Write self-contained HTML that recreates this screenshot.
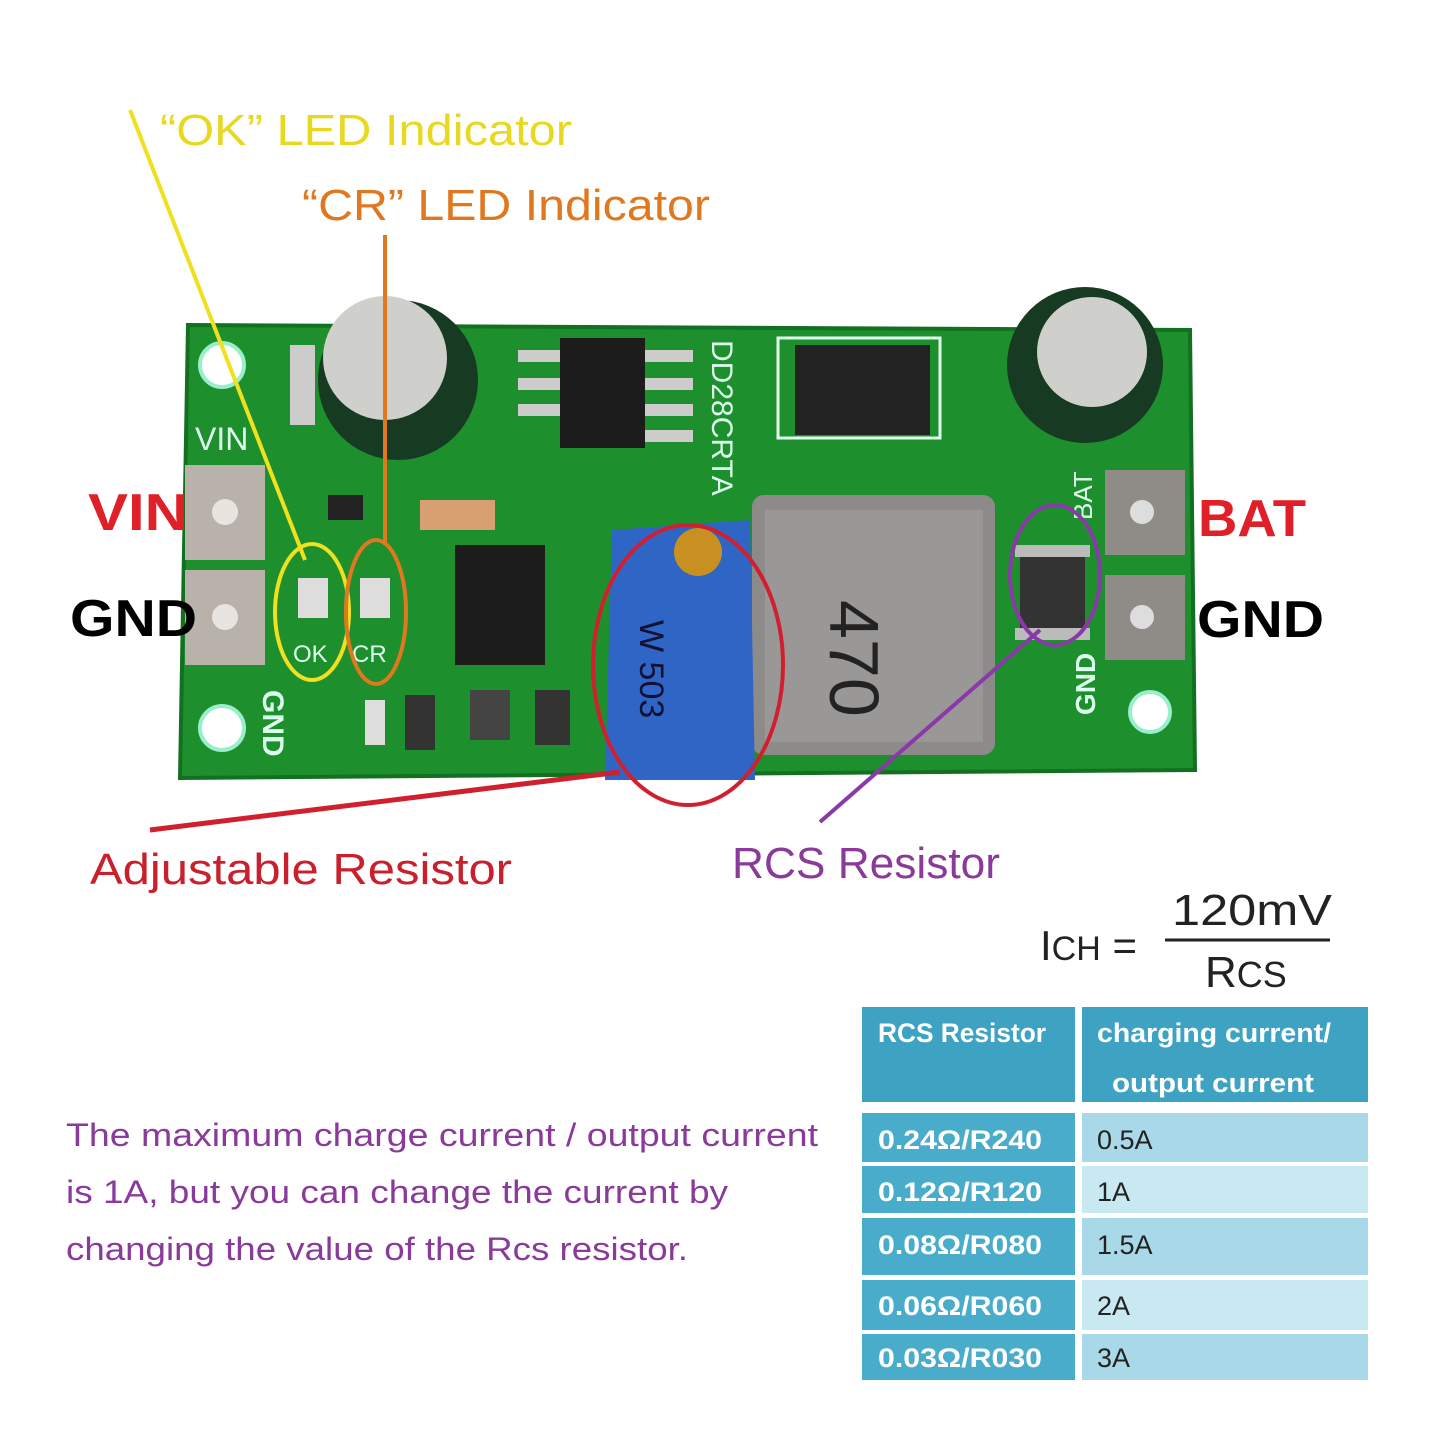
<!DOCTYPE html>
<html><head><meta charset="utf-8"><style>
html,body{margin:0;padding:0;background:#fff;width:1445px;height:1445px;overflow:hidden}
svg{display:block}
text{font-family:"Liberation Sans","DejaVu Sans",sans-serif}
</style></head><body>
<svg width="1445" height="1445" viewBox="0 0 1445 1445">
<rect width="1445" height="1445" fill="#fff"/>
<!-- PCB -->
<polygon points="188,325 1190,330 1195,770 180,778" fill="#1d8f2c"/>
<polygon points="188,325 1190,330 1195,770 180,778" fill="none" stroke="#137020" stroke-width="4"/>
<circle cx="222" cy="365" r="22" fill="#fff" stroke="#9ec" stroke-width="4"/>
<circle cx="222" cy="728" r="22" fill="#fff" stroke="#9ec" stroke-width="4"/>
<circle cx="1150" cy="712" r="20" fill="#fff" stroke="#9ec" stroke-width="4"/>
<!-- terminals -->
<rect x="185" y="465" width="80" height="95" fill="#b9b2ab"/>
<rect x="185" y="570" width="80" height="95" fill="#b9b2ab"/>
<rect x="1105" y="470" width="80" height="85" fill="#8f8c88"/>
<rect x="1105" y="575" width="80" height="85" fill="#8f8c88"/>
<circle cx="225" cy="512" r="13" fill="#e8e4e0"/><circle cx="225" cy="617" r="13" fill="#e8e4e0"/>
<circle cx="1142" cy="512" r="12" fill="#ddd"/><circle cx="1142" cy="617" r="12" fill="#ddd"/>
<!-- capacitors -->
<circle cx="398" cy="380" r="80" fill="#173a22"/>
<circle cx="385" cy="358" r="62" fill="#cfcfcc"/>
<circle cx="1085" cy="365" r="78" fill="#173a22"/>
<circle cx="1092" cy="352" r="55" fill="#cfcfcc"/>
<!-- ICs -->
<rect x="560" y="338" width="85" height="110" fill="#1c1c1c"/>
<rect x="518" y="350" width="42" height="12" fill="#ccc"/><rect x="518" y="378" width="42" height="12" fill="#ccc"/><rect x="518" y="404" width="42" height="12" fill="#ccc"/>
<rect x="645" y="350" width="48" height="12" fill="#ccc"/><rect x="645" y="378" width="48" height="12" fill="#ccc"/><rect x="645" y="404" width="48" height="12" fill="#ccc"/><rect x="645" y="430" width="48" height="12" fill="#ccc"/>
<rect x="778" y="338" width="162" height="100" fill="none" stroke="#dfe" stroke-width="3"/>
<rect x="795" y="345" width="135" height="90" fill="#222"/>
<rect x="455" y="545" width="90" height="120" fill="#1c1c1c"/>
<rect x="420" y="500" width="75" height="30" fill="#d8a070"/>
<rect x="328" y="495" width="35" height="25" fill="#222"/>
<rect x="290" y="345" width="25" height="80" fill="#ccc"/>
<rect x="470" y="690" width="40" height="50" fill="#444"/>
<rect x="535" y="690" width="35" height="55" fill="#333"/>
<rect x="365" y="700" width="20" height="45" fill="#ddd"/>
<rect x="405" y="695" width="30" height="55" fill="#333"/>
<!-- inductor -->
<rect x="752" y="495" width="243" height="260" rx="12" fill="#8d8b89"/>
<rect x="765" y="510" width="218" height="232" fill="#9a9896"/>
<text x="0" y="0" transform="translate(830,600) rotate(90)" font-size="70" fill="#222" font-family="Liberation Mono">470</text>
<!-- pot -->
<polygon points="612,530 750,520 755,780 605,780" fill="#2f66c6"/>
<circle cx="698" cy="552" r="24" fill="#c89020"/>
<text transform="translate(640,620) rotate(90)" font-size="34" fill="#113" >W 503</text>
<!-- RCS resistor -->
<rect x="1020" y="550" width="65" height="85" fill="#333"/>
<rect x="1015" y="545" width="75" height="12" fill="#bbb"/><rect x="1015" y="628" width="75" height="12" fill="#bbb"/>
<!-- LEDs -->
<rect x="298" y="578" width="30" height="40" fill="#ddd"/>
<rect x="360" y="578" width="30" height="40" fill="#ddd"/>
<text x="195" y="450" font-size="32" fill="#dfe" >VIN</text>
<text x="293" y="662" font-size="24" fill="#dfe">OK</text>
<text x="352" y="662" font-size="24" fill="#dfe">CR</text>
<text transform="translate(712,340) rotate(90)" font-size="30" fill="#dfe">DD28CRTA</text>
<text transform="translate(1095,715) rotate(-90)" font-size="28" font-weight="bold" fill="#dfe">GND</text>
<text transform="translate(1092,520) rotate(-90)" font-size="26" fill="#dfe">BAT</text>
<text transform="translate(263,690) rotate(90)" font-size="30" font-weight="bold" fill="#dfe">GND</text>
<!-- annotations -->
<line x1="130" y1="110" x2="305" y2="560" stroke="#f0e020" stroke-width="4"/>
<ellipse cx="312" cy="612" rx="37" ry="68" fill="none" stroke="#f0e020" stroke-width="4"/>
<line x1="385" y1="235" x2="385" y2="545" stroke="#e07820" stroke-width="4"/>
<ellipse cx="376" cy="612" rx="30" ry="72" fill="none" stroke="#e07820" stroke-width="4"/>
<ellipse cx="688" cy="665" rx="95" ry="140" fill="none" stroke="#d02030" stroke-width="4"/>
<line x1="150" y1="830" x2="620" y2="772" stroke="#d02030" stroke-width="5"/>
<ellipse cx="1055" cy="575" rx="45" ry="70" fill="none" stroke="#8a3aa8" stroke-width="4"/>
<line x1="820" y1="822" x2="1040" y2="630" stroke="#8a3aa8" stroke-width="4"/>
<text x="160" y="145" font-size="44" fill="#e8d820" textLength="412" lengthAdjust="spacingAndGlyphs">“OK” LED Indicator</text>
<text x="302" y="220" font-size="44" fill="#e07820" textLength="408" lengthAdjust="spacingAndGlyphs">“CR” LED Indicator</text>
<text x="88" y="530" font-size="52" font-weight="bold" fill="#e02028" textLength="100" lengthAdjust="spacingAndGlyphs">VIN</text>
<text x="70" y="636" font-size="52" font-weight="bold" fill="#000" textLength="127" lengthAdjust="spacingAndGlyphs">GND</text>
<text x="1198" y="536" font-size="52" font-weight="bold" fill="#e02028" textLength="108" lengthAdjust="spacingAndGlyphs">BAT</text>
<text x="1197" y="637" font-size="52" font-weight="bold" fill="#000" textLength="127" lengthAdjust="spacingAndGlyphs">GND</text>
<text x="90" y="884" font-size="44" fill="#c8202c" textLength="422" lengthAdjust="spacingAndGlyphs">Adjustable Resistor</text>
<text x="732" y="878" font-size="44" fill="#8a3a9a" textLength="268" lengthAdjust="spacingAndGlyphs">RCS Resistor</text>
<!-- formula -->
<text x="1040" y="960" font-size="42" fill="#222">I<tspan font-size="34">CH</tspan> =</text>
<text x="1172" y="925" font-size="44" fill="#222" textLength="160" lengthAdjust="spacingAndGlyphs">120mV</text>
<line x1="1165" y1="940" x2="1330" y2="940" stroke="#222" stroke-width="3"/>
<text x="1205" y="987" font-size="44" fill="#222">R<tspan font-size="36">CS</tspan></text>
<!-- body text -->
<g font-size="32" fill="#8a3a9a">
<text x="66" y="1146" textLength="752" lengthAdjust="spacingAndGlyphs">The maximum charge current / output current</text>
<text x="66" y="1203" textLength="662" lengthAdjust="spacingAndGlyphs">is 1A, but you can change the current by</text>
<text x="66" y="1260" textLength="622" lengthAdjust="spacingAndGlyphs">changing the value of the Rcs resistor.</text>
</g>
<!-- table -->
<rect x="862" y="1007" width="213" height="95" fill="#3ea3c3"/>
<rect x="1082" y="1007" width="286" height="95" fill="#3ea3c3"/>
<g fill="#fff" font-size="27" font-weight="bold">
<text x="878" y="1042" textLength="168" lengthAdjust="spacingAndGlyphs">RCS Resistor</text>
<text x="1097" y="1042" textLength="234" lengthAdjust="spacingAndGlyphs">charging current/</text>
<text x="1112" y="1092" textLength="202" lengthAdjust="spacingAndGlyphs">output current</text>
</g>
<g fill="#4aaccb">
<rect x="862" y="1113" width="213" height="49"/><rect x="862" y="1166" width="213" height="47"/>
<rect x="862" y="1218" width="213" height="57"/><rect x="862" y="1280" width="213" height="50"/>
<rect x="862" y="1334" width="213" height="46"/>
</g>
<rect x="1082" y="1113" width="286" height="49" fill="#a9d9e8"/>
<rect x="1082" y="1166" width="286" height="47" fill="#c8e8f2"/>
<rect x="1082" y="1218" width="286" height="57" fill="#a9d9e8"/>
<rect x="1082" y="1280" width="286" height="50" fill="#c8e8f2"/>
<rect x="1082" y="1334" width="286" height="46" fill="#a9d9e8"/>
<g fill="#fff" font-size="27" font-weight="bold">
<text x="878" y="1149" textLength="164" lengthAdjust="spacingAndGlyphs">0.24Ω/R240</text>
<text x="878" y="1201" textLength="164" lengthAdjust="spacingAndGlyphs">0.12Ω/R120</text>
<text x="878" y="1254" textLength="164" lengthAdjust="spacingAndGlyphs">0.08Ω/R080</text>
<text x="878" y="1315" textLength="164" lengthAdjust="spacingAndGlyphs">0.06Ω/R060</text>
<text x="878" y="1367" textLength="164" lengthAdjust="spacingAndGlyphs">0.03Ω/R030</text>
</g>
<g fill="#222" font-size="27">
<text x="1097" y="1149">0.5A</text>
<text x="1097" y="1201">1A</text>
<text x="1097" y="1254">1.5A</text>
<text x="1097" y="1315">2A</text>
<text x="1097" y="1367">3A</text>
</g>
</svg>
</body></html>
